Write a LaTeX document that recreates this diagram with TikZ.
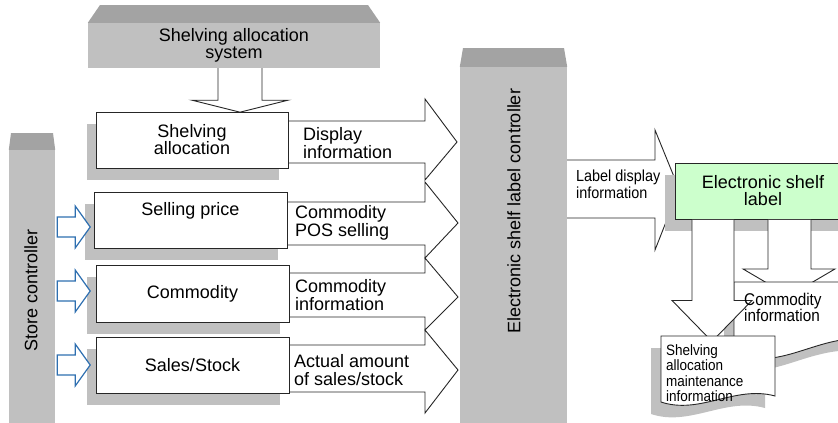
\documentclass[tikz,border=0pt]{standalone}
\usepackage{fontspec}
\setmainfont{Liberation Sans}
\newfontfamily\narrowsf[FakeStretch=0.9]{Liberation Sans}
\usetikzlibrary{positioning, calc, shadows, backgrounds}
\definecolor{colbody}{HTML}{C0C0C0}
\definecolor{coltop}{HTML}{A3A3A3}
\definecolor{labelgreen}{HTML}{CCFFCC}
\definecolor{storeblue}{HTML}{2E6FB0}
\tikzset{
  column/.style={rectangle, fill=colbody, inner sep=0pt, align=center, font=\fontsize{18}{17}\selectfont},
  box/.style={rectangle, draw=black!85, line width=0.9pt, fill=white, align=center, inner sep=0pt, font=\fontsize{18}{17}\selectfont,
    drop shadow={shadow xshift=-9pt, shadow yshift=-12pt, opacity=1, fill=colbody}},
  hollow/.style={draw=black!85, line width=0.9pt, fill=white},
  docshape/.style={draw=black!85, line width=0.9pt, fill=white,
    drop shadow={shadow xshift=-10pt, shadow yshift=-12pt, opacity=1, fill=colbody}},
  bluearrow/.style={draw=storeblue, line width=1.2pt, fill=white},
  info/.style={align=left, anchor=west, inner sep=0pt, font=\fontsize{18}{18}\selectfont},
  smallinfo/.style={align=left, inner sep=0pt, font=\narrowsf\fontsize{16}{17}\selectfont}
}
\begin{document}
\begin{tikzpicture}[x=1pt, y=-1pt]
    \useasboundingbox (0,0) rectangle (838,423);

    % === columns ===
    \node (sys) [column, minimum width=292, minimum height=45] at (234,45.5) {Shelving allocation\\system};
    \fill[coltop] (sys.north west) -- (100,5) -- (368,5) -- (sys.north east) -- cycle;
    \node (store) [column, minimum width=46, minimum height=273] at (32,286.5) {};
    \fill[coltop] (store.north west) -- (11,133) -- (53,133) -- (store.north east) -- cycle;
    \node (storetxt) [rotate=90, font=\fontsize{18}{18}\selectfont] at (31,290) {Store controller};
    \node (ctrl) [column, minimum width=107, minimum height=356] at (513.5,245) {};
    \fill[coltop] (ctrl.north west) -- (463,48) -- (564,48) -- (ctrl.north east) -- cycle;
    \node (ctrltxt) [rotate=90, font=\fontsize{18}{18}\selectfont] at (514,211) {Electronic shelf label controller};

    % === boxes ===
    \node (alloc) [box, minimum width=192, minimum height=56] at (192,140) {Shelving\\allocation};
    \node (price) [box, minimum width=193, minimum height=56] at (190.5,220) {Selling price\\[6pt]\mbox{}};
    \node (comm) [box, minimum width=193, minimum height=57] at (192.5,293.5) {Commodity};
    \node (sales) [box, minimum width=193, minimum height=56] at (192.5,365) {Sales/Stock};

    \begin{pgfonlayer}{background}
    \draw [hollow] ($(sys.south)+(-16,0)$) -- ++(0,32) -- ++(-26,0) -- ++(48,12) -- ++(48,-12) -- ++(-26,0) -- ++(0,-32);
    \draw [hollow] ($(alloc.east)+(0,-19)$) -- (425,121) -- (425,99) -- (457,142) -- (425,180) -- (425,163) -- ($(alloc.east)+(0,23)$);
    \draw [hollow] ($(price.east)+(0,-18)$) -- (425,202) -- (425,182) -- (458,223) -- (425,258) -- (425,245) -- ($(price.east)+(0,25)$);
    \draw [hollow] ($(comm.east)+(0,-20.5)$) -- (425,273) -- (425,258) -- (458,297) -- (425,330) -- (425,317) -- ($(comm.east)+(0,23.5)$);
    \draw [hollow] ($(sales.east)+(0,-20)$) -- (425,345) -- (425,330) -- (458,370) -- (425,413) -- (425,392) -- ($(sales.east)+(0,27)$);
    \draw [hollow] ($(ctrl.east)+(0,-85)$) -- (655,160) -- (655,130) -- (679,189) -- (655,250) -- (655,218) -- ($(ctrl.east)+(0,-27)$);
    \end{pgfonlayer}

    \node (dispinfo) [info] at (303,143) {Display\\information};
    \node (posinfo) [info] at (295,223) {Commodity\\POS selling};
    \node (comminfo) [info] at (295,295) {Commodity\\information};
    \node (salesinfo) [info] at (294,370) {Actual amount\\of sales/stock};

    % === store controller inputs ===
    \draw [bluearrow] ($(store.east |- price.west)+(2,-3)$) -- ++(18,0) -- ++(0,-11) -- ++(15,21) -- ++(-15,21) -- ++(0,-11) -- ++(-18,0) -- cycle;
    \draw [bluearrow] ($(store.east |- comm.west)+(2,-12.5)$) -- ++(18,0) -- ++(0,-11) -- ++(15,21) -- ++(-15,21) -- ++(0,-11) -- ++(-18,0) -- cycle;
    \draw [bluearrow] ($(store.east |- sales.west)+(2,-10)$) -- ++(18,0) -- ++(0,-11) -- ++(15,21) -- ++(-15,21) -- ++(0,-11) -- ++(-18,0) -- cycle;

    % === electronic shelf label ===
    \node (labeltxt) [smallinfo, anchor=west] at (576,184) {Label display\\information};
    \node (esl) [box, fill=labelgreen, minimum width=176, minimum height=56,
        drop shadow={shadow xshift=-10pt, shadow yshift=-12pt, opacity=1, fill=colbody}] at (763,191) {Electronic shelf\\label};

    \draw [hollow] ($(esl.south)+(5,0.5)$) -- ++(0,49) -- ++(-25,0) -- ++(46,27) -- ++(46,-27) -- ++(-24,0) -- ++(0,-49);
    \filldraw [docshape] (734,282) -- (880,282) -- (880,340) .. controls (820,330) and (790,370) .. (734,356) -- cycle;
    \draw [hollow] ($(esl.south)+(-71,0.5)$) -- ++(0,80.5) -- ++(-20,0) -- ++(40,41) -- ++(40,-41) -- ++(-18,0) -- ++(0,-80.5);
    \node (commdoc) [smallinfo, anchor=north west, font=\narrowsf\fontsize{17}{16}\selectfont] at (744,293) {Commodity\\information};
    \filldraw [docshape] (661,336) -- (775,336) -- (775,396) .. controls (735,385) and (700,415) .. (661,402) -- cycle;
    \node (mainttxt) [smallinfo, anchor=north west, font=\narrowsf\fontsize{15}{15.5}\selectfont] at (666,344) {Shelving\\allocation\\maintenance\\information};

\end{tikzpicture}
\end{document}
